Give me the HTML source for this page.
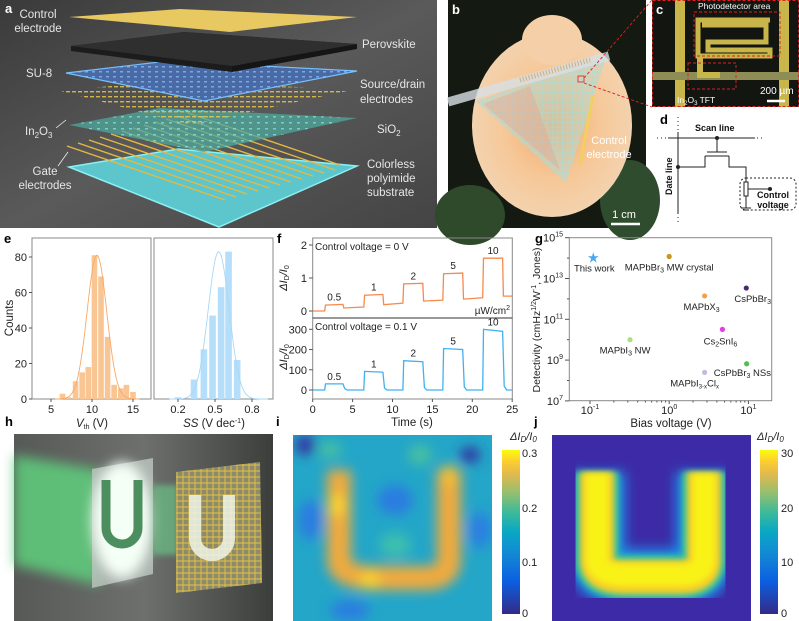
<!DOCTYPE html>
<html><head><meta charset="utf-8">
<style>
html,body{margin:0;padding:0;background:#fff;}
svg{display:block;font-family:"Liberation Sans",Arial,sans-serif;}
</style></head>
<body>
<svg id="fig" width="799" height="621" viewBox="0 0 799 621" xmlns="http://www.w3.org/2000/svg">
<defs>
  <linearGradient id="bgA" x1="0" y1="0" x2="1" y2="1"><stop offset="0" stop-color="#3a3a3a"/><stop offset="0.5" stop-color="#5a5a5a"/><stop offset="1" stop-color="#444"/></linearGradient>
  <radialGradient id="rose" cx="0.5" cy="0.5" r="0.5"><stop offset="0" stop-color="#f2a86a"/><stop offset="0.6" stop-color="#f6c898"/><stop offset="1" stop-color="#f3d2ae"/></radialGradient>
  <linearGradient id="bgH" x1="0" y1="0" x2="1" y2="0"><stop offset="0" stop-color="#575957"/><stop offset="0.5" stop-color="#6d706d"/><stop offset="1" stop-color="#3c3e3c"/></linearGradient>
  <linearGradient id="parula" x1="0" y1="1" x2="0" y2="0">
    <stop offset="0" stop-color="#352a87"/><stop offset="0.2" stop-color="#0b5fe0"/><stop offset="0.35" stop-color="#1385d6"/><stop offset="0.5" stop-color="#08a8c6"/><stop offset="0.62" stop-color="#3cba9a"/><stop offset="0.74" stop-color="#95bf6f"/><stop offset="0.85" stop-color="#e0b94f"/><stop offset="0.93" stop-color="#fccd2f"/><stop offset="1" stop-color="#f9fb0e"/>
  </linearGradient>
  <filter id="blur6" x="-20%" y="-20%" width="140%" height="140%"><feGaussianBlur stdDeviation="6"/></filter>
  <filter id="blur3" x="-20%" y="-20%" width="140%" height="140%"><feGaussianBlur stdDeviation="3"/></filter>
  <filter id="blur10" x="-30%" y="-30%" width="160%" height="160%"><feGaussianBlur stdDeviation="10"/></filter>
  <pattern id="dotsBlue" width="7" height="5" patternUnits="userSpaceOnUse"><rect x="1" y="1" width="3" height="1.5" fill="#8cc4ff" opacity="0.7"/></pattern>
  <pattern id="dotsGold" width="6" height="5" patternUnits="userSpaceOnUse"><rect x="0" y="1" width="4" height="1.4" fill="#e2c04a"/></pattern>
  <pattern id="dotsTeal" width="8" height="6" patternUnits="userSpaceOnUse"><rect x="1" y="2" width="3" height="1.5" fill="#7fe0d8" opacity="0.8"/></pattern>
  <pattern id="gridGold" width="6" height="6" patternUnits="userSpaceOnUse"><path d="M0 3H6M3 0V6" stroke="#e8c040" stroke-width="0.9"/></pattern>
  <pattern id="gridTeal" width="5" height="5" patternUnits="userSpaceOnUse"><path d="M0 2.5H5M2.5 0V5" stroke="#9de0e0" stroke-width="0.7" opacity="0.8"/></pattern>
  <clipPath id="clipI"><rect x="293" y="435" width="199" height="186"/></clipPath>
  <clipPath id="clipJ"><rect x="552" y="435" width="199" height="186"/></clipPath>
</defs>

<!-- Panel a -->
<g>
  <rect x="0" y="0" width="437" height="228" fill="url(#bgA)"/>
  <polygon points="69,167 178,149 357,166 219,227" fill="#5cc6cc" stroke="#8af0f4" stroke-width="1.5"/>
  <g stroke="#e6b840" stroke-width="1.4">
    <line x1="67" y1="146" x2="225" y2="200"/><line x1="78" y1="143" x2="236" y2="197"/><line x1="89" y1="140" x2="247" y2="194"/><line x1="100" y1="137" x2="258" y2="191"/><line x1="111" y1="134" x2="269" y2="188"/><line x1="122" y1="131" x2="280" y2="185"/><line x1="133" y1="128" x2="291" y2="182"/><line x1="144" y1="125" x2="302" y2="179"/><line x1="155" y1="122" x2="313" y2="176"/><line x1="166" y1="119" x2="324" y2="173"/><line x1="177" y1="116" x2="335" y2="170"/><line x1="188" y1="113" x2="340" y2="165"/>
  </g>
  <polygon points="69,125 160,108 357,118 204,152" fill="#4fa89e" opacity="0.75"/>
  <polygon points="69,125 160,108 357,118 204,152" fill="url(#dotsTeal)"/>
  <polygon points="61,91 170,80 352,90 190,125" fill="url(#dotsGold)" opacity="0.9"/>
  <polygon points="66,73 168,61 357,71 204,101" fill="#4a6aa6" stroke="#76c0ff" stroke-width="1.2"/>
  <polygon points="66,73 168,61 357,71 204,101" fill="url(#dotsBlue)"/>
  <polygon points="71,46 184,32 357,44 232,66 232,72 71,51" fill="#1c1c1c"/>
  <polygon points="71,46 184,32 357,44 232,66" fill="#2f2f2f"/>
  <polygon points="232,66 357,44 357,49 232,72" fill="#151515"/>
  <polygon points="69,17 180,9 357,17 230,32" fill="#e8c860"/>
  <g fill="#e6e6e6" font-size="11.5">
    <text x="38" y="18" text-anchor="middle">Control</text>
    <text x="38" y="32" text-anchor="middle">electrode</text>
    <text x="362" y="48">Perovskite</text>
    <text x="26" y="77">SU-8</text>
    <text x="360" y="88">Source/drain</text>
    <text x="360" y="103">electrodes</text>
    <text x="25" y="135">In<tspan font-size="8" dy="3">2</tspan><tspan dy="-3">O</tspan><tspan font-size="8" dy="3">3</tspan></text>
    <text x="377" y="133">SiO<tspan font-size="8" dy="3">2</tspan></text>
    <text x="45" y="175" text-anchor="middle">Gate</text>
    <text x="45" y="189" text-anchor="middle">electrodes</text>
    <text x="367" y="168">Colorless</text>
    <text x="367" y="182">polyimide</text>
    <text x="367" y="196">substrate</text>
  </g>
  <g stroke="#eee" stroke-width="0.8" fill="none"><line x1="56" y1="128" x2="66" y2="120"/><line x1="58" y1="166" x2="68" y2="152"/></g>
  <text x="5" y="13" font-size="13" font-weight="bold" fill="#fff">a</text>
</g>

<!-- Panel b -->
<g>
  <rect x="448" y="0" width="198" height="228" fill="#141a12"/>
  <ellipse cx="470" cy="215" rx="35" ry="30" fill="#2e4a2a"/>
  <ellipse cx="630" cy="200" rx="30" ry="40" fill="#2f4d2e"/>
  <ellipse cx="552" cy="125" rx="80" ry="92" fill="url(#rose)"/>
  <ellipse cx="552" cy="40" rx="30" ry="25" fill="#f5cfa8"/>
  <polygon points="476,101 606,57 566,183" fill="#b7d8d0" opacity="0.55"/>
  <polygon points="476,101 606,57 566,183" fill="url(#gridTeal)" opacity="0.7"/>
  <polygon points="483,104 530,86 560,170" fill="#f09a88" opacity="0.35"/>
  <line x1="448" y1="102" x2="609" y2="56" stroke="#d8e0e6" stroke-width="9" opacity="0.8"/>
  <line x1="520" y1="80" x2="590" y2="60" stroke="#c8b080" stroke-width="5" stroke-dasharray="1 2"/>
  <line x1="593" y1="95" x2="580" y2="165" stroke="#f0d060" stroke-width="3"/>
  <g fill="#fff" font-size="11" text-anchor="middle"><text x="609" y="144">Control</text><text x="609" y="158">electrode</text></g>
  <text x="624" y="218" font-size="11" fill="#fff" text-anchor="middle">1 cm</text>
  <line x1="611" y1="224" x2="640" y2="224" stroke="#fff" stroke-width="2.5"/>
  <text x="452" y="14" font-size="13" font-weight="bold" fill="#fff">b</text>
  <rect x="578" y="76" width="6" height="6" fill="none" stroke="#e02020" stroke-width="0.8"/>
</g>

<!-- Panel c -->
<g>
  <rect x="652" y="0" width="147" height="107" fill="#121510"/>
  <rect x="675" y="0" width="10" height="107" fill="#c8b64a"/>
  <rect x="779" y="0" width="10" height="107" fill="#c8b64a"/>
  <rect x="652" y="72" width="147" height="8" fill="#8e8d55"/>
  <path d="M702 25H766V42H708V50H770V56H698V20H770" fill="none" stroke="#c8b64a" stroke-width="5"/>
  <path d="M700 56V75H720" fill="none" stroke="#c8b64a" stroke-width="6"/>
  <g fill="none" stroke="#e02020" stroke-width="0.9" stroke-dasharray="3 2">
    <rect x="694" y="12" width="86" height="44"/><rect x="688" y="63" width="48" height="26"/>
    <rect x="652.5" y="0.5" width="146" height="106"/>
    <line x1="584" y1="78" x2="652" y2="0"/><line x1="584" y1="83" x2="652" y2="107"/>
  </g>
  <text x="698" y="9" font-size="8.5" fill="#fff">Photodetector area</text>
  <text x="677" y="103" font-size="8.5" fill="#fff">In<tspan font-size="6" dy="2">2</tspan><tspan dy="-2">O</tspan><tspan font-size="6" dy="2">3</tspan><tspan dy="-2"> TFT</tspan></text>
  <text x="760" y="94" font-size="10" fill="#fff">200 µm</text>
  <line x1="767" y1="101" x2="785" y2="101" stroke="#fff" stroke-width="2.5"/>
  <text x="656" y="14" font-size="13" font-weight="bold" fill="#fff">c</text>
</g>

<!-- Panel d -->
<g stroke="#222" fill="none" stroke-width="1">
  <line x1="678" y1="117" x2="678" y2="225" stroke-dasharray="1 3"/>
  <line x1="678" y1="132" x2="678" y2="213"/>
  <line x1="657" y1="138" x2="765" y2="138" stroke-dasharray="1 3"/>
  <line x1="668" y1="138" x2="755" y2="138"/>
  <circle cx="717" cy="138" r="1.5" fill="#222"/>
  <path d="M717 138V152M707 152H727M705 156H729M678 167H705V156M729 156V167H746V182"/>
  <circle cx="678" cy="167" r="1.5" fill="#222"/>
  <rect x="744" y="182" width="4" height="14"/>
  <path d="M746 196V208M741 208H751M743 210H749"/>
  <path d="M748 189H770"/><circle cx="770" cy="189" r="1.5" fill="#222"/>
  <rect x="740" y="178" width="56" height="32" rx="6" stroke-dasharray="2 2"/>
</g>
<g fill="#111" font-weight="bold" font-size="9">
  <text x="695" y="131">Scan line</text>
  <text x="773" y="198" text-anchor="middle">Control</text>
  <text x="773" y="208" text-anchor="middle">voltage</text>
  <text x="0" y="0" transform="translate(672,195) rotate(-90)">Date line</text>
</g>
<text x="660" y="124" font-size="13" font-weight="bold" fill="#000">d</text>

<!-- chart panels e f g drawn by script -->
<g id="chartE"></g>
<g id="chartF"></g>
<g id="chartG"></g>
<text x="4" y="243" font-size="13" font-weight="bold">e</text>
<text x="277" y="243" font-size="13" font-weight="bold">f</text>
<text x="535" y="243" font-size="13" font-weight="bold">g</text>

<!-- Panel h -->
<g>
  <rect x="14" y="434" width="259" height="187" fill="url(#bgH)"/>
  <polygon points="14,455 100,470 100,585 14,565" fill="#5fcf7d" opacity="0.85" filter="url(#blur6)"/>
  <polygon points="92,469 153,458 153,574 92,588" fill="#b8c2bc" opacity="0.85"/>
  <ellipse cx="122" cy="520" rx="30" ry="58" fill="#f4fff6" filter="url(#blur6)"/>
  <path d="M106 480V528A16 16 0 0 0 138 528V480" fill="none" stroke="#4d8e5e" stroke-width="9"/>
  <polygon points="153,485 178,485 178,555 153,555" fill="#6dd08a" opacity="0.6" filter="url(#blur3)"/>
  <polygon points="176,472 260,462 262,583 176,593" fill="#8c8c6c"/>
  <polygon points="176,472 260,462 262,583 176,593" fill="url(#gridGold)"/>
  <path d="M195 495V538A17 17 0 0 0 229 538V495" fill="none" stroke="#f0f4e8" stroke-width="12" opacity="0.85"/>
  <text x="5" y="426" font-size="13" font-weight="bold">h</text>
</g>

<!-- Panel i -->
<g>
  <g clip-path="url(#clipI)">
    <rect x="293" y="435" width="199" height="186" fill="#23a6c8"/>
    <g filter="url(#blur6)">
      <ellipse cx="305" cy="445" rx="10" ry="10" fill="#3535a0"/>
      <ellipse cx="470" cy="455" rx="10" ry="8" fill="#3030a0"/>
      <ellipse cx="395" cy="500" rx="18" ry="15" fill="#2b7de0"/>
      <ellipse cx="310" cy="520" rx="12" ry="20" fill="#2b7de0"/>
      <ellipse cx="480" cy="530" rx="12" ry="18" fill="#2b80e0"/>
      <ellipse cx="395" cy="545" rx="16" ry="12" fill="#3cbfae"/>
      <ellipse cx="350" cy="610" rx="20" ry="10" fill="#2b7de0"/>
      <ellipse cx="420" cy="455" rx="12" ry="10" fill="#48c0a0"/>
      <ellipse cx="330" cy="450" rx="12" ry="8" fill="#48c0a0"/>
      <path d="M339 470V560Q339 578 380 578H425Q449 578 449 560V470" fill="none" stroke="#f0aa3c" stroke-width="24"/>
      <ellipse cx="337" cy="505" rx="8" ry="12" fill="#fcd22e"/>
      <ellipse cx="370" cy="580" rx="10" ry="8" fill="#fcd22e"/>
      <ellipse cx="449" cy="475" rx="8" ry="10" fill="#f8c030"/>
    </g>
  </g>
  <rect x="502" y="450" width="18" height="164" fill="url(#parula)"/>
  <g font-size="11" fill="#222">
    <text x="522" y="457">0.3</text><text x="522" y="512">0.2</text><text x="522" y="566">0.1</text><text x="522" y="617">0</text>
    <text x="510" y="440" font-style="italic">ΔI<tspan font-size="8" dy="2">D</tspan><tspan dy="-2">/I</tspan><tspan font-size="8" dy="2">0</tspan></text>
  </g>
  <text x="276" y="426" font-size="13" font-weight="bold">i</text>
</g>

<!-- Panel j -->
<g>
  <g clip-path="url(#clipJ)">
    <rect x="552" y="435" width="199" height="186" fill="#3d2aa6"/>
    <path d="M597 472V560Q597 577 625 577H680Q704 577 704 560V472" fill="none" stroke="#1a8ee8" stroke-width="56" filter="url(#blur6)"/>
    <path d="M597 472V560Q597 577 625 577H680Q704 577 704 560V472" fill="none" stroke="#33c29c" stroke-width="44" filter="url(#blur3)"/>
    <path d="M597 472V560Q597 577 625 577H680Q704 577 704 560V472" fill="none" stroke="#f7cf2c" stroke-width="34" filter="url(#blur3)"/>
    <path d="M597 474V558Q597 575 625 575H680Q704 575 704 558V474" fill="none" stroke="#f8f218" stroke-width="22" filter="url(#blur3)"/>
  </g>
  <rect x="760" y="450" width="18" height="164" fill="url(#parula)"/>
  <g font-size="11" fill="#222">
    <text x="781" y="457">30</text><text x="781" y="512">20</text><text x="781" y="566">10</text><text x="781" y="617">0</text>
    <text x="757" y="440" font-style="italic">ΔI<tspan font-size="8" dy="2">D</tspan><tspan dy="-2">/I</tspan><tspan font-size="8" dy="2">0</tspan></text>
  </g>
  <text x="534" y="426" font-size="13" font-weight="bold">j</text>
</g>
</svg>

<script>
// ---- Panel e data ----
const vthCenters = [6.4, 7.1, 8.0, 8.8, 9.55, 10.3, 11.1, 11.9, 12.7, 13.5, 14.2, 15.0];
const vthCounts  = [3, 1, 10, 15, 18, 81, 69, 35, 8, 6, 8, 4];
const ssCenters  = [0.20, 0.33, 0.41, 0.48, 0.55, 0.61, 0.68];
const ssCounts   = [1, 11, 28, 47, 63, 83, 22];
const vthFit = [81, 10.6, 1.2];   // amplitude, mean, sigma
const ssFit  = [83, 0.53, 0.085];
const countTicks = [0, 20, 40, 60, 80];
const vthTicks = [5, 10, 15];
const ssTicks = [0.2, 0.5, 0.8];

// ---- Panel f data ----
const timeTop = [0,1.5,1.6,3.8,3.9,6.4,6.5,8.8,8.9,11.3,11.4,13.8,13.9,16.3,16.4,18.8,18.9,21.3,21.4,23.8,23.9,25];
const valTop  = [0,0,0.18,0.2,0.09,0.12,0.48,0.5,0.19,0.24,0.82,0.84,0.3,0.33,1.13,1.15,0.36,0.4,1.6,1.6,0.45,0.45];
const timeBot = [0,1.5,1.6,3.8,4.0,4.3,6.4,6.5,8.8,9.0,9.3,11.3,11.4,13.8,14.0,14.3,16.3,16.4,18.8,19.0,19.3,21.3,21.4,23.8,24.0,24.3,25];
const valBot  = [0,0,30,30,8,0,0,92,88,10,0,0,145,140,12,0,0,205,200,15,0,0,300,290,20,0,0];
const pulseLabels = ["0.5","1","2","5","10"];
const timeTicks = [0,5,10,15,20,25];
const topTicks = [0,1,2];
const botTicks = [0,100,200,300];

// ---- Panel g data ----
const materials = ["This work","MAPbBr3 MW crystal","MAPbX3","CsPbBr3","Cs2SnI6","MAPbI3 NW","CsPbBr3 NSs","MAPbI3-xClx"];
const biasV = [0.11, 1.0, 2.8, 9.4, 4.7, 0.32, 9.5, 2.8];
const detectivity = [1.1e14, 1.2e14, 1.4e12, 3.4e12, 3.2e10, 1.0e10, 6.6e8, 2.5e8];
const matColors = ["#4aa8f0","#c8961e","#f4a04a","#4a2a6a","#e040e0","#a8e080","#50c050","#c8b8e0"];
const yExpTicks = [7,9,11,13,15];
const xExpTicks = [-1,0,1];

const NS = "http://www.w3.org/2000/svg";
function mk(parent, tag, attrs, text){
  const e = document.createElementNS(NS, tag);
  for (const k in attrs) e.setAttribute(k, attrs[k]);
  if (text !== undefined) e.textContent = text;
  parent.appendChild(e); return e;
}

// ===== Panel e =====
(function(){
  const g = document.getElementById('chartE');
  const yC = c => 399 - c*1.775;
  const xV = v => 51 + (v-5)*8.2;
  const xS = s => 178 + (s-0.2)*123.3;
  // axes boxes
  const b1 = mk(g,'rect',{x:32,y:238,width:119,height:161,fill:'none',stroke:'#888','stroke-width':1});
   
  const b2 = mk(g,'rect',{x:154,y:238,width:119,height:161,fill:'none',stroke:'#888','stroke-width':1});
   
  vthCenters.forEach((v,i)=>{
    const r = mk(g,'rect',{x:xV(v)-2.8,y:yC(vthCounts[i]),width:5.6,height:399-yC(vthCounts[i]),fill:'#f9c592'});
     
  });
  ssCenters.forEach((v,i)=>{
    const r = mk(g,'rect',{x:xS(v)-3.3,y:yC(ssCounts[i]),width:6.6,height:399-yC(ssCounts[i]),fill:'#b5defa'});
     
  });
  function fit(params, x0, x1, xf, cls, col){
    let d=''; const n=80;
    for(let k=0;k<=n;k++){ const v=x0+(x1-x0)*k/n; const c=params[0]*Math.exp(-0.5*Math.pow((v-params[1])/params[2],2));
      d += (k?'L':'M')+xf(v).toFixed(1)+' '+yC(c).toFixed(1); }
    const p = mk(g,'path',{d:d,fill:'none',stroke:col,'stroke-width':0.9});
     
  }
  fit(vthFit, 5.5, 15.8, xV, 'vth-gaussian-fit', '#f7a868');
  fit(ssFit, 0.13, 0.93, xS, 'ss-gaussian-fit', '#a6d8f6');
  countTicks.forEach(t=>{
    mk(g,'line',{x1:32,y1:yC(t),x2:29,y2:yC(t),stroke:'#555'});
    const tx = mk(g,'text',{x:27,y:yC(t)+4,'font-size':11,'text-anchor':'end',fill:'#222'},String(t));
     
  });
  vthTicks.forEach(t=>{
    mk(g,'line',{x1:xV(t),y1:399,x2:xV(t),y2:402,stroke:'#555'});
    const tx = mk(g,'text',{x:xV(t),y:413,'font-size':11,'text-anchor':'middle',fill:'#222'},String(t));
     
  });
  ssTicks.forEach(t=>{
    mk(g,'line',{x1:xS(t),y1:399,x2:xS(t),y2:402,stroke:'#555'});
    const tx = mk(g,'text',{x:xS(t),y:413,'font-size':11,'text-anchor':'middle',fill:'#222'},String(t));
     
  });
  const yl = mk(g,'text',{x:0,y:0,'font-size':11.5,'text-anchor':'middle',transform:'translate(13,318) rotate(-90)',fill:'#222'},'Counts');
   
  const xl1 = mk(g,'text',{x:92,y:427,'font-size':11.5,'text-anchor':'middle',fill:'#222'});
   
  xl1.innerHTML = '<tspan font-style="italic">V</tspan><tspan font-size="7" dy="2">th</tspan><tspan dy="-2"> (V)</tspan>';
  const xl2 = mk(g,'text',{x:214,y:427,'font-size':11.5,'text-anchor':'middle',fill:'#222'});
   
  xl2.innerHTML = '<tspan font-style="italic">SS</tspan> (V dec<tspan font-size="7" dy="-4">-1</tspan><tspan dy="4">)</tspan>';
})();

// ===== Panel f =====
(function(){
  const g = document.getElementById('chartF');
  const xT = t => 312.7 + t*7.98;
  const yTop = v => 311 - v*33;
  const yBot = v => 390 - v*0.2023;
  const fr = mk(g,'rect',{x:312.7,y:238,width:199.6,height:161,fill:'none',stroke:'#888'});
   
  mk(g,'line',{x1:312.7,y1:318,x2:512.3,y2:318,stroke:'#333','stroke-width':1});
  let d='';
  timeTop.forEach((t,i)=>{ d += (i?'L':'M')+xT(t).toFixed(1)+' '+yTop(valTop[i]).toFixed(1); });
  const p1 = mk(g,'path',{d:d,fill:'none',stroke:'#f58a4c','stroke-width':1.3});
   
  d='';
  timeBot.forEach((t,i)=>{ d += (i?'L':'M')+xT(t).toFixed(1)+' '+yBot(valBot[i]).toFixed(1); });
  const p2 = mk(g,'path',{d:d,fill:'none',stroke:'#40b0f2','stroke-width':1.3});
   
  // pulse labels
  pulseLabels.forEach((lab,k)=>{
    const i = 2+4*k;
    const tc = (timeTop[i]+timeTop[i+1])/2;
    const a = mk(g,'text',{x:xT(tc),y:yTop(Math.max(valTop[i],valTop[i+1]))-4,'font-size':10,'text-anchor':'middle',fill:'#222'},lab);
     
    let j = timeBot.indexOf(timeTop[i]);
    const b = mk(g,'text',{x:xT(tc),y:yBot(Math.max(valBot[j],valBot[j+1]))-4,'font-size':10,'text-anchor':'middle',fill:'#222'},lab);
     
  });
  topTicks.forEach(t=>{
    mk(g,'line',{x1:312.7,y1:yTop(t),x2:309,y2:yTop(t),stroke:'#555'});
    const tx = mk(g,'text',{x:307,y:yTop(t)+4,'font-size':11,'text-anchor':'end',fill:'#222'},String(t));
     
  });
  botTicks.forEach(t=>{
    mk(g,'line',{x1:312.7,y1:yBot(t),x2:309,y2:yBot(t),stroke:'#555'});
    const tx = mk(g,'text',{x:307,y:yBot(t)+4,'font-size':11,'text-anchor':'end',fill:'#222'},String(t));
     
  });
  timeTicks.forEach(t=>{
    mk(g,'line',{x1:xT(t),y1:399,x2:xT(t),y2:402,stroke:'#555'});
    const tx = mk(g,'text',{x:xT(t),y:413,'font-size':11,'text-anchor':'middle',fill:'#222'},String(t));
     
  });
  const xl = mk(g,'text',{x:412,y:426,'font-size':11.5,'text-anchor':'middle',fill:'#222'},'Time (s)');
   
  [[287,278],[287,357]].forEach(p=>{
    const yl = mk(g,'text',{x:0,y:0,'font-size':11,'text-anchor':'middle',transform:'translate('+p[0]+','+p[1]+') rotate(-90)',fill:'#222'});
     
    yl.innerHTML = '<tspan font-style="italic">ΔI</tspan><tspan font-size="7" dy="2">D</tspan><tspan dy="-2" font-style="italic">/I</tspan><tspan font-size="7" dy="2">0</tspan>';
  });
  const c1 = mk(g,'text',{x:315,y:250,'font-size':10,fill:'#222'},'Control voltage = 0 V');
   
  const c2 = mk(g,'text',{x:315,y:330,'font-size':10,fill:'#222'},'Control voltage = 0.1 V');
   
  const u = mk(g,'text',{x:510,y:314,'font-size':10,'text-anchor':'end',fill:'#222'});
   
  u.innerHTML = 'µW/cm<tspan font-size="7" dy="-4">2</tspan>';
})();

// ===== Panel g =====
(function(){
  const g = document.getElementById('chartG');
  const xB = v => 590 + (Math.log10(v)+1)*79.2;
  const yD = v => 237.7 + (15-Math.log10(v))*20.4;
  const fr = mk(g,'rect',{x:569.3,y:237.7,width:202.4,height:163,fill:'none',stroke:'#888'});
   
  yExpTicks.forEach(e=>{
    const y = yD(Math.pow(10,e));
    mk(g,'line',{x1:569.3,y1:y,x2:565,y2:y,stroke:'#555'});
    if(e<15) mk(g,'line',{x1:569.3,y1:yD(Math.pow(10,e+1)),x2:567,y2:yD(Math.pow(10,e+1)),stroke:'#555'});
    const tx = mk(g,'text',{x:563,y:y+4,'font-size':11,'text-anchor':'end',fill:'#222'});
     
    tx.innerHTML = '10<tspan font-size="7" dy="-5">'+e+'</tspan>';
  });
  xExpTicks.forEach(e=>{
    const x = xB(Math.pow(10,e));
    mk(g,'line',{x1:x,y1:400.7,x2:x,y2:404,stroke:'#555'});
    for(let m=2;m<10;m++){ const xm=xB(m*Math.pow(10,e)); if(xm<771) mk(g,'line',{x1:xm,y1:400.7,x2:xm,y2:402.5,stroke:'#555'}); }
    const tx = mk(g,'text',{x:x,y:414,'font-size':11,'text-anchor':'middle',fill:'#222'});
     
    tx.innerHTML = '10<tspan font-size="7" dy="-5">'+e+'</tspan>';
  });
  const labelHTML = ['This work','MAPbBr<tspan font-size="7" dy="2">3</tspan><tspan dy="-2"> MW crystal</tspan>','MAPbX<tspan font-size="7" dy="2">3</tspan>','CsPbBr<tspan font-size="7" dy="2">3</tspan>','Cs<tspan font-size="7" dy="2">2</tspan><tspan dy="-2">SnI</tspan><tspan font-size="7" dy="2">6</tspan>','MAPbI<tspan font-size="7" dy="2">3</tspan><tspan dy="-2"> NW</tspan>','CsPbBr<tspan font-size="7" dy="2">3</tspan><tspan dy="-2"> NSs</tspan>','MAPbI<tspan font-size="6" dy="2">3-x</tspan><tspan dy="-2">Cl</tspan><tspan font-size="6" dy="2">x</tspan>'];
  const offs = [[1,14],[0,14],[-3,14],[0,14],[-2,15],[-5,14],[0,12],[-10,14]];
  materials.forEach((m,i)=>{
    const x = xB(biasV[i]), y = yD(detectivity[i]);
    if(i===0){
      const s = mk(g,'text',{x:x,y:y+5,'font-size':14,'text-anchor':'middle',fill:matColors[i]},'★');
       
    } else {
      const c = mk(g,'circle',{cx:x,cy:y,r:2.6,fill:matColors[i]});
       
    }
    const t = mk(g,'text',{x:x+offs[i][0],y:y+offs[i][1],'font-size':9.5,'text-anchor':'middle',fill:'#222'});
    if(i===3||i===6){ t.setAttribute('text-anchor','end'); t.setAttribute('x', 771); }
     
    t.innerHTML = labelHTML[i];
  });
  const xl = mk(g,'text',{x:671,y:427,'font-size':11.5,'text-anchor':'middle',fill:'#222'},'Bias voltage (V)');
   
  const yl = mk(g,'text',{x:0,y:0,'font-size':10.5,'text-anchor':'middle',transform:'translate(540,320) rotate(-90)',fill:'#222'});
   
  yl.innerHTML = 'Detectivity (cmHz<tspan font-size="7" dy="-4">1/2</tspan><tspan dy="4">W</tspan><tspan font-size="7" dy="-4">-1</tspan><tspan dy="4">, Jones)</tspan>';
})();
</script>
</body></html>
